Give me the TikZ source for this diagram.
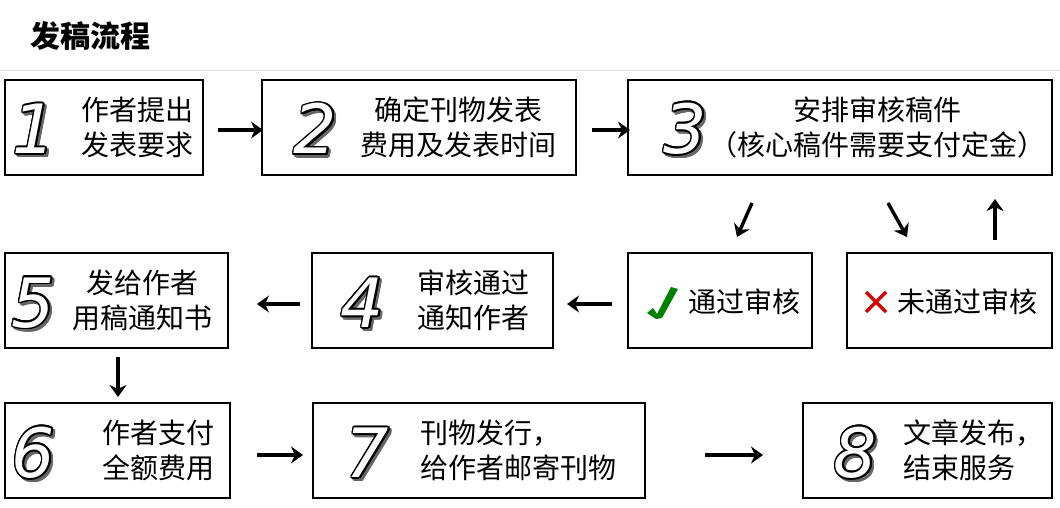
\documentclass[tikz,border=0pt]{standalone}
\usepackage{fontspec}
\usepackage{contour}
\newfontfamily\cjk{Noto Sans CJK SC}
\newfontfamily\numfont{DejaVu Sans}
\usetikzlibrary{arrows.meta}
\contourlength{1.6pt}
\contournumber{16}
\tikzset{
  box/.style={draw=black,line width=1.6pt},
  txt/.style={font=\cjk\fontsize{28}{35}\selectfont,align=center,inner sep=0pt},
  arr/.style={line width=3.4pt,-{Stealth[length=12pt,width=17pt]}},
}
\newcommand{\bignum}[3]{%
  \node[inner sep=0pt] at (#1,#2) {\numfont\itshape\fontsize{68}{68}\selectfont\contour{black!60}{\textcolor{black!60}{#3}}};
  \node[inner sep=0pt] at ([shift={(-2.5,-2.5)}]#1,#2) {\numfont\itshape\fontsize{68}{68}\selectfont\contour{black}{\textcolor{white}{#3}}};}
\begin{document}
\begin{tikzpicture}[x=1pt,y=-1pt]
\useasboundingbox (0,0) rectangle (1060,508);
\fill[white] (0,0) rectangle (1060,508);
\node[anchor=west,inner sep=0pt,font=\cjk\bfseries\fontsize{30}{30}\selectfont] (title) at (30,36) {发稿流程};
\draw[black!12,line width=1pt] (0,71) -- (1060,71);
% boxes
\draw[box] (5,80) rectangle (203,175);
\draw[box] (262,80) rectangle (576,175);
\draw[box] (628,80) rectangle (1052,175);
\draw[box] (628,253) rectangle (812,348);
\draw[box] (847,253) rectangle (1052,348);
\draw[box] (312,253) rectangle (553,348);
\draw[box] (5,253) rectangle (228,348);
\draw[box] (5,403) rectangle (230,498);
\draw[box] (313,403) rectangle (645,498);
\draw[box] (803,403) rectangle (1052,498);
% numbers
\bignum{37}{132}{1}
\bignum{318}{132}{2}
\bignum{688}{132}{3}
\bignum{365}{306}{4}
\bignum{36}{306}{5}
\bignum{36}{456}{6}
\bignum{370}{456}{7}
\bignum{858}{456}{8}
% texts
\node[txt] (t1) at (137,127) {作者提出\\发表要求};
\node[txt] (t2) at (458,127) {确定刊物发表\\费用及发表时间};
\node[txt] (t3) at (877,127) {安排审核稿件\\（核心稿件需要支付定金）};
\node[txt] (t4) at (473,300) {审核通过\\通知作者};
\node[txt] (t5) at (142,300) {发给作者\\用稿通知书};
\node[txt] (t6) at (158,450) {作者支付\\全额费用};
\node[txt,align=left,anchor=west] (t7) at (420,450) {刊物发行，\\给作者邮寄刊物};
\node[txt,align=left,anchor=west] (t8) at (903,450) {文章发布，\\结束服务};
\node[txt,anchor=west] (tc) at (688,302) {通过审核};
\node[txt,anchor=west] (tx) at (897,302) {未通过审核};
% check mark
\fill[green!50!black] (647,313) -- (653,308) -- (657,314) -- (671,287) -- (678,289) -- (662,318) -- (656,319) -- cycle;
% cross
\draw[red!85!black,line width=3.4pt] (866,292) -- (886,312) (886,292) -- (866,312);
% arrows
\coordinate (a1s) at (218,130); \coordinate (a1e) at (263,130);
\draw[arr] (a1s) -- (a1e);
\coordinate (a2s) at (592,130); \coordinate (a2e) at (630,130);
\draw[arr] (a2s) -- (a2e);
\coordinate (a3s) at (752,203); \coordinate (a3e) at (737,237);
\draw[arr] (a3s) -- (a3e);
\coordinate (a4s) at (888,203); \coordinate (a4e) at (907,237);
\draw[arr] (a4s) -- (a4e);
\coordinate (a5s) at (995,240); \coordinate (a5e) at (995,199);
\draw[arr] (a5s) -- (a5e);
\coordinate (a6s) at (612,304); \coordinate (a6e) at (567,304);
\draw[arr] (a6s) -- (a6e);
\coordinate (a7s) at (300,304); \coordinate (a7e) at (257,304);
\draw[arr] (a7s) -- (a7e);
\coordinate (a8s) at (118,357); \coordinate (a8e) at (118,397);
\draw[arr] (a8s) -- (a8e);
\coordinate (a9s) at (257,455); \coordinate (a9e) at (303,455);
\draw[arr] (a9s) -- (a9e);
\coordinate (a10s) at (705,455); \coordinate (a10e) at (763,455);
\draw[arr] (a10s) -- (a10e);
\end{tikzpicture}
\end{document}
